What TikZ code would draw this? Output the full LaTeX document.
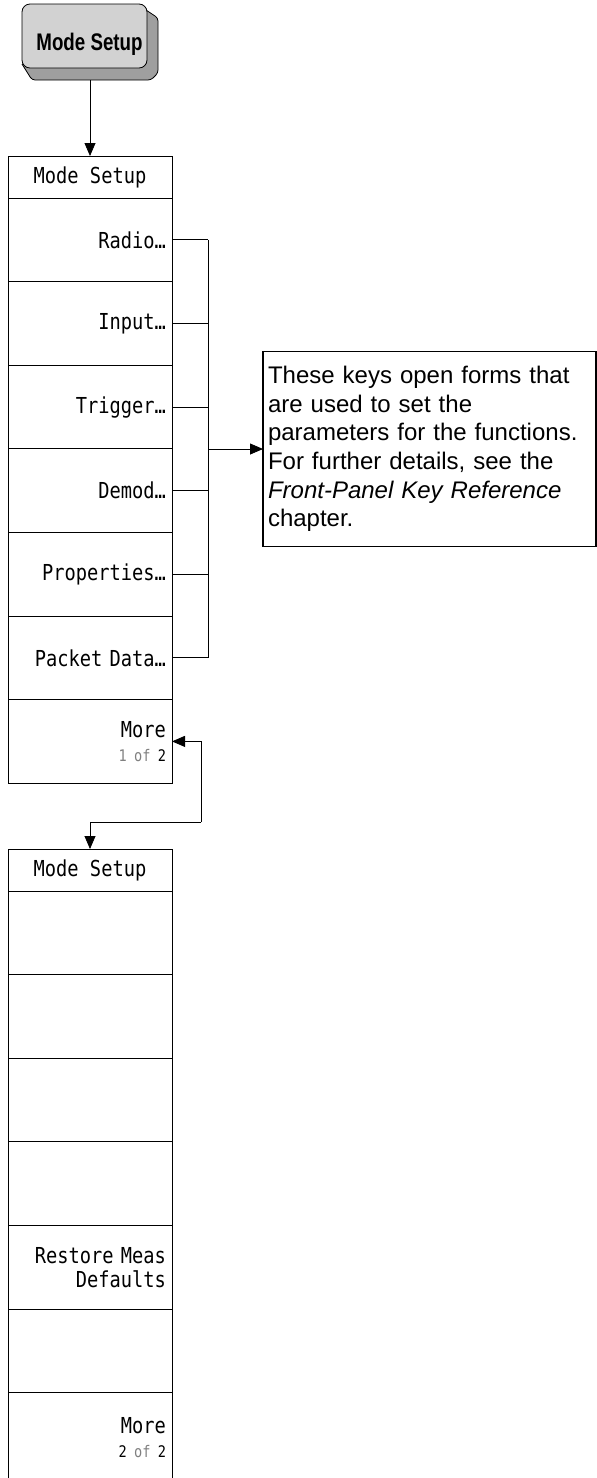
\documentclass[tikz,border=0pt]{standalone}
\usepackage{fontspec}
\setmainfont{Liberation Sans}
\newfontfamily\keyfont{DejaVu Sans Mono}[FakeStretch=0.85]
\newfontfamily\hardfont{Liberation Sans}[FakeStretch=0.78]
\usetikzlibrary{positioning,arrows.meta}
\newcommand{\pagefont}{\fontsize{16}{24}\selectfont}
\begin{document}
\begin{tikzpicture}[x=1pt,y=-1pt,>={Triangle[length=13pt,width=11pt]}]
	\tikzset{
		softtitle/.style={draw,line width=0.8pt,outer sep=0pt,inner sep=0pt,
			minimum width=164pt,minimum height=42pt,font=\keyfont\fontsize{22}{25}\selectfont},
		softkey/.style={draw,line width=0.8pt,outer sep=0pt,inner xsep=6pt,inner ysep=0pt,
			text width=152pt,minimum height=83.6pt,align=right,font=\keyfont\fontsize{22}{24}\selectfont},
		notebox/.style={draw,line width=1.4pt,outer sep=0pt,inner sep=5pt,text width=323pt,
			minimum height=195pt,align=left,font=\fontsize{24}{28.7}\selectfont},
		wire/.style={line width=0.8pt}
	}
	\useasboundingbox (0,0) rectangle (597,1478);
	% hard key
	\draw[fill=gray!75,line width=0.8pt,rounded corners=3pt]
	(140,6)--(158,18)--(158,73)--(151,80)--(32,80)--(22,64);
	\draw[fill=gray!35,line width=0.8pt,rounded corners=8pt] (22,4) rectangle (147,68);
	\node[anchor=base,font=\hardfont\bfseries\fontsize{24}{28}\selectfont] (hard) at (89.5,50) {Mode Setup};
	\coordinate (keybase) at (90,80);
	% menu 1 of 2
	\node[softtitle] (title1) at (90,177) {Mode Setup};
	\node[softkey,below=0pt of title1] (radio) {Radio…};
	\node[softkey,below=0pt of radio] (input) {Input…};
	\node[softkey,below=0pt of input] (trigger) {Trigger…};
	\node[softkey,below=0pt of trigger] (demod) {Demod…};
	\node[softkey,below=0pt of demod] (props) {Properties…};
	\node[softkey,below=0pt of props] (packet) {Packet Data…};
	\node[softkey,below=0pt of packet] (more1) {More\\{\pagefont\color{gray}1 of \color{black}2}};
	\draw[wire,->] (keybase)--(title1.north);
	% forms
	\coordinate (bus) at (208,449);
	\node[notebox,right=55pt of bus] (note) {These keys open forms that\\
		are used to set the\\
		parameters for the functions.\\
		For further details, see the\\
		\textit{Front-Panel Key Reference}\\
		chapter.};
	\foreach \k in {radio,input,trigger,demod,props,packet}
	\draw[wire] (\k.east)--(\k.east-|bus);
	\draw[wire] (radio.east-|bus)--(packet.east-|bus);
	\draw[wire,->] (bus)--(note.west);
	% menu 2 of 2
	\node[softtitle] (title2) at (90,870) {Mode Setup};
	\node[softkey,below=0pt of title2] (blankA) {};
	\node[softkey,below=0pt of blankA] (blankB) {};
	\node[softkey,below=0pt of blankB] (blankC) {};
	\node[softkey,below=0pt of blankC] (blankD) {};
	\node[softkey,below=0pt of blankD] (restore) {Restore Meas\\Defaults};
	\node[softkey,below=0pt of restore] (blankE) {};
	\node[softkey,below=0pt of blankE,minimum height=89pt] (more2) {More\\{\pagefont 2 \color{gray}of \color{black}2}};
	\coordinate (turn) at (201,822);
	\draw[wire,->] (turn)|-(more1.east);
	\draw[wire,->] (turn)-|(title2.north);
\end{tikzpicture}
\end{document}
